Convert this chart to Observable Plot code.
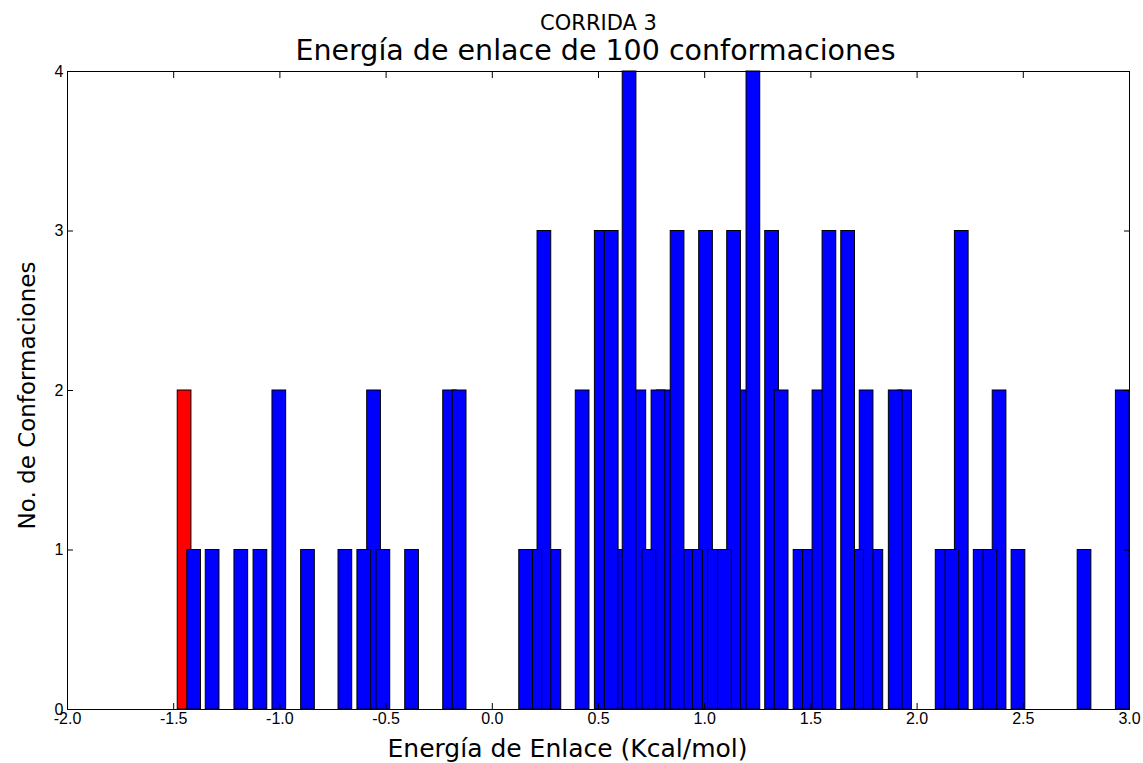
<!DOCTYPE html>
<html>
<head>
<meta charset="utf-8">
<script src="https://cdn.jsdelivr.net/npm/d3@7"></script>
<script src="https://cdn.jsdelivr.net/npm/@observablehq/plot@0.6"></script>
<style>
  html, body { margin: 0; padding: 0; background: #fff; overflow: hidden; }
  #chart svg { display: block; }
</style>
</head>
<body>
<div id="chart"></div>
<script>
// Left edge of each bar (binding energy, kcal/mol), listed in drawing order
const energies = [
  -1.481, -1.436, -1.349, -1.214, -1.124, -1.035, -0.900, -0.724, -0.589, -0.635,
  -0.545, -0.410, -0.231, -0.186, 0.260, 0.213, 0.170, 0.127, 0.393, 0.483,
  0.530, 0.593, 0.660, 0.614, 0.775, 0.750, 0.707, 0.974, 0.927, 0.880,
  0.840, 1.016, 1.132, 1.106, 1.063, 1.197, 1.285, 1.330, 1.419, 1.463,
  1.508, 1.555, 1.776, 1.730, 1.685, 1.643, 1.911, 1.867, 2.088, 2.178,
  2.134, 2.267, 2.356, 2.313, 2.445, 2.756, 2.936
];
// Number of conformations for each bar
const counts = [
  2, 1, 1, 1, 1, 2, 1, 1, 2, 1,
  1, 1, 2, 2, 1, 3, 1, 1, 2, 3,
  3, 1, 2, 4, 2, 2, 1, 3, 1, 1,
  3, 1, 2, 3, 1, 4, 3, 2, 1, 1,
  2, 3, 1, 2, 1, 3, 2, 2, 1, 3,
  1, 1, 2, 1, 1, 1, 2
];
const xTicks = [-2.0, -1.5, -1.0, -0.5, 0.0, 0.5, 1.0, 1.5, 2.0, 2.5, 3.0];
const yTicks = [0, 1, 2, 3, 4];

const titleTop = "CORRIDA 3";
const titleMain = "Energía de enlace de 100 conformaciones";
const xLabel = "Energía de Enlace (Kcal/mol)";
const yLabel = "No. de Conformaciones";

const barWidth = 0.0645;
const minEnergy = d3.min(energies);
const bars = energies.map((e, i) => ({
  x1: e, x2: e + barWidth, n: counts[i], best: e === minEnergy
}));

const titleFont = "DejaVu Sans";
const tickFont = "Liberation Sans";

const chart = Plot.plot({
  width: 1143,
  height: 763,
  marginLeft: 67,
  marginRight: 14,
  marginTop: 71,
  marginBottom: 54,
  style: { background: "#fff", color: "#000", fontFamily: tickFont },
  x: { domain: [-2, 3], label: null },
  y: { domain: [0, 4], label: null },
  marks: [
    Plot.rect(bars, {
      x1: "x1", x2: "x2", y1: 0, y2: "n",
      fill: d => d.best ? "#ff0000" : "#0000ff",
      stroke: "#000", strokeWidth: 1
    }),
    Plot.frame({ stroke: "#000", strokeWidth: 1 }),
    // inward tick marks on all four sides
    Plot.axisX(xTicks, { anchor: "bottom", tickSize: -6, fill: "none", label: null }),
    Plot.axisX(xTicks, { anchor: "top", tickSize: -6, fill: "none", label: null }),
    Plot.axisY(yTicks, { anchor: "left", tickSize: -6, fill: "none", label: null }),
    Plot.axisY(yTicks, { anchor: "right", tickSize: -6, fill: "none", label: null }),
    // tick labels
    Plot.axisX(xTicks, { anchor: "bottom", tickSize: 0, tickPadding: 3, fontSize: 16,
      fontFamily: tickFont, tickFormat: d => d.toFixed(1), label: null }),
    Plot.axisY(yTicks, { anchor: "left", tickSize: 0, tickPadding: 4, fontSize: 16,
      fontFamily: tickFont, tickFormat: d => String(d), label: null }),
    // titles and axis labels
    Plot.text([titleTop], { frameAnchor: "top", dy: -48, fontSize: 21,
      fontFamily: titleFont, lineAnchor: "middle", fill: "#000" }),
    Plot.text([titleMain], { frameAnchor: "top", dx: -3, dy: -21, fontSize: 28.5,
      fontFamily: titleFont, lineAnchor: "middle", fill: "#000" }),
    Plot.text([xLabel], { frameAnchor: "bottom", dx: -31, dy: 39, fontSize: 25,
      fontFamily: titleFont, lineAnchor: "middle", fill: "#000" }),
    Plot.text([yLabel], { frameAnchor: "left", dx: -40, dy: 5, rotate: -90, fontSize: 23,
      fontFamily: titleFont, textAnchor: "middle", lineAnchor: "middle", fill: "#000" })
  ]
});
document.getElementById("chart").appendChild(chart);
</script>
</body>
</html>
